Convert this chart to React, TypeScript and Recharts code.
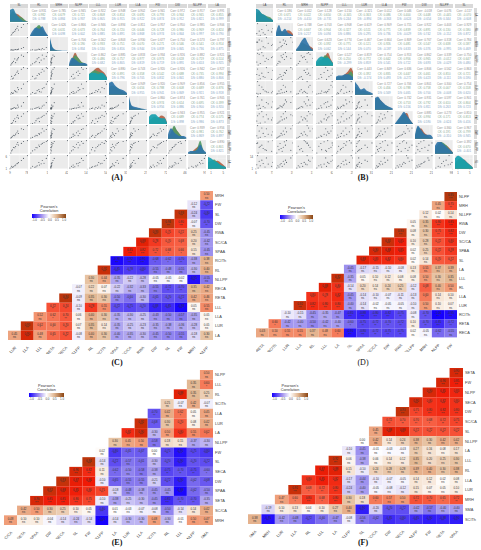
import React from 'react';
import { AreaChart, Area, CartesianGrid, Scatter, ScatterChart, XAxis, YAxis } from 'recharts';

const SANS = '"Liberation Sans", Arial, sans-serif';

// pair plot panels: strip names, one list of specimens per trait
const traitsA = ['SL', 'RL', 'MRH', 'NLPP', 'LLL', 'LUR', 'LLA', 'FW', 'DW', 'NLLPP', 'LA'];
const traitsB = ['LA', 'RL', 'MRH', 'NLPP', 'LLL', 'LUR', 'LLA', 'FW', 'DW', 'NLLPP', 'SL'];

const specimensA = [
  [12, 18, 15, 22, 30, 27, 35, 41, 38, 52, 60, 75],
  [2.1, 2.8, 2.4, 3.0, 3.6, 3.2, 3.9, 3.5, 4.4, 4.1, 4.8, 5.0],
  [1, 1, 2, 1, 3, 2, 2, 4, 3, 6, 9, 40],
  [3, 5, 4, 6, 5, 8, 7, 9, 8, 11, 10, 13],
  [22, 25, 31, 27, 36, 33, 41, 38, 44, 48, 52, 50],
  [5, 6, 8, 7, 10, 12, 9, 14, 18, 16, 25, 30],
  [1, 2, 1, 3, 2, 4, 3, 5, 9, 7, 14, 26],
  [30, 34, 32, 41, 38, 47, 52, 49, 58, 55, 63, 70],
  [9, 14, 11, 17, 20, 16, 24, 22, 29, 35, 33, 44],
  [50, 62, 58, 70, 74, 69, 82, 79, 88, 85, 92, 95],
  [1.2, 1.5, 1.9, 1.7, 2.4, 2.1, 2.9, 3.4, 3.1, 4.2, 5.0, 6.1],
];
const specimensB = [
  [14, 40, 22, 65, 9, 33, 52, 18, 70, 28, 45, 12],
  [3, 5, 4, 8, 6, 7, 10, 9, 12, 11, 16, 18],
  [5, 7, 6, 9, 12, 8, 11, 14, 10, 13, 16, 12],
  [20, 32, 25, 44, 30, 50, 38, 55, 47, 60, 42, 58],
  [6, 10, 8, 7, 14, 11, 17, 13, 20, 16, 24, 22],
  [2, 9, 3, 5, 4, 12, 6, 22, 8, 18, 7, 30],
  [1, 3, 2, 4, 6, 5, 9, 7, 12, 15, 11, 20],
  [8, 10, 9, 12, 11, 15, 13, 18, 14, 20, 17, 16],
  [4, 6, 5, 8, 7, 10, 9, 13, 12, 17, 16, 20],
  [40, 55, 70, 48, 82, 60, 90, 66, 95, 75, 52, 85],
  [2, 3, 4, 3.5, 5, 6, 5.5, 8, 7, 9, 11, 13],
];

// diagonal densities, each trait: [brown, green, front] heights
const densityA = [
  [[2, 5, 6, 5, 3, 1, 0], [5, 8, 5, 4, 3, 1, 0], [9, 10, 6, 3, 1, 0.5, 0]],
  [[0, 2, 5, 8, 6, 3, 0], [0, 3, 7, 9, 6, 2, 0], [1, 5, 7, 6, 8, 4, 0.5]],
  [[5, 1, 0.3, 0, 0, 0, 0], [8, 1.5, 0.4, 0.2, 0, 0, 0], [10, 2, 0.5, 0.3, 0.2, 0.1, 0]],
  [[0, 5, 10, 6, 3, 1, 0], [0, 4, 8, 6, 3, 2, 0], [1, 6, 5, 3, 2, 2, 1]],
  [[4, 6, 9, 10, 8, 6, 2], [5, 7, 8, 7, 6, 4, 1], [5, 6, 6, 5, 6, 5, 2]],
  [[3, 5, 5, 4, 3, 1, 0], [5, 7, 6, 5, 3, 2, 0], [9, 10, 7, 5, 4, 3, 1]],
  [[6, 2, 1, 0.5, 0.3, 0, 0], [7, 2, 1, 1, 0.5, 0.2, 0], [10, 3, 2, 1.5, 1, 0.5, 0.2]],
  [[1, 3, 4, 5, 7, 6, 1], [3, 5, 6, 5, 4, 2, 0], [6, 8, 8, 6, 5, 5, 1]],
  [[0, 4, 9, 6, 3, 1, 0], [1, 5, 10, 6, 3, 1, 0], [3, 8, 5, 3, 2, 2, 1]],
  [[0, 1, 3, 5, 6, 2, 0], [0, 1, 2, 4, 10, 3, 0], [1, 2, 2, 3, 7, 3, 1]],
  [[3, 4, 5, 6, 5, 3, 1], [5, 6, 7, 5, 3, 1, 0], [9, 8, 6, 5, 3, 2, 1]],
];
const densityB = [
  [[4, 6, 5, 4, 3, 2, 0], [6, 8, 6, 5, 4, 3, 0], [10, 9, 6, 5, 3, 2, 1]],
  [[0, 1, 3, 4, 5, 4, 1], [1, 5, 4, 3, 1, 0.5, 0], [3, 9, 4, 6, 3, 2, 0.5]],
  [[0, 2, 3, 5, 4, 3, 1], [0, 2, 6, 5, 3, 1, 0], [1, 4, 8, 10, 6, 2, 0.5]],
  [[0, 2, 4, 7, 10, 5, 1], [1, 4, 5, 8, 7, 3, 1], [3, 6, 7, 6, 6, 4, 1]],
  [[1, 2, 3, 5, 7, 10, 5], [2, 3, 3, 4, 5, 7, 3], [3, 4, 4, 5, 5, 4, 2]],
  [[5, 4, 3, 3, 2, 1, 0], [6, 5, 3, 3, 2, 1, 0], [10, 7, 4, 5, 3, 2, 1]],
  [[5, 8, 7, 4, 2, 1, 0], [7, 9, 6, 4, 3, 1, 0], [9, 10, 7, 5, 3, 2, 1]],
  [[0, 2, 5, 8, 9, 4, 1], [0, 3, 6, 8, 6, 3, 1], [1, 4, 7, 10, 7, 4, 1]],
  [[1, 6, 8, 5, 3, 1, 0], [1, 9, 6, 3, 2, 1, 0], [3, 10, 7, 4, 3, 3, 1]],
  [[1, 4, 6, 7, 6, 4, 1], [3, 7, 9, 8, 6, 3, 1], [6, 9, 9, 7, 5, 3, 1]],
  [[2, 5, 6, 7, 5, 3, 1], [4, 7, 8, 6, 4, 2, 0], [8, 10, 9, 7, 5, 3, 1]],
];
const frontColorA = ['#2c7fa8', '#2f74a8', '#2f74a8', '#2f74a8', '#17a0ae', '#2f74a8', '#2f74a8', '#17a0ae', '#2f74a8', '#2f74a8', '#17a0ae'];
const frontColorB = ['#1f8fa8', '#2f74a8', '#2f74a8', '#17a0ae', '#2f74a8', '#2f74a8', '#2f74a8', '#2f74a8', '#2f74a8', '#2f74a8', '#17a0ae'];

// correlation triangles, top row first, each row right aligned
const rowLabelsC = ['MRH', 'FW', 'SL', 'DW', 'RWA', 'SC/CA', 'SPAA', 'RCITh', 'RL', 'NLLPP', 'RECA', 'RETA', 'LLL', 'LLA', 'LUR', 'LA'];
const colLabelsC = ['LUR', 'LLA', 'LLL', 'RETA', 'RECA', 'NLLPP', 'RL', 'RCITh', 'SPAA', 'SC/CA', 'RWA', 'DW', 'SL', 'FW', 'MRH', 'NLPP'];
const valuesC = [
  [0.5],
  [-0.12, -0.72],
  [0.93, -0.24, -0.8],
  [0.94, 0.8, -0.07, -0.7],
  [0.93, 0.75, 0.72, 0.25, -0.45],
  [0.88, 0.78, 0.7, 0.68, 0.2, -0.42],
  [0.85, 0.82, 0.72, 0.68, 0.66, 0.15, -0.45],
  [-0.98, -0.92, -0.95, -0.68, -0.62, -0.7, -0.38, 0.38],
  [0.92, -0.85, -0.78, -0.8, -0.55, -0.48, -0.55, -0.3, 0.4],
  [0.3, 0.44, -0.35, -0.22, -0.28, -0.05, -0.05, -0.02, -0.95, -0.55],
  [-0.07, 0.22, 0.07, -0.22, -0.32, -0.33, -0.55, -0.72, -0.7, 0.35, 0.42],
  [0.94, -0.09, 0.35, 0.3, -0.5, -0.6, -0.3, -0.65, -0.7, -0.72, 0.42, 0.46],
  [0.72, 0.74, -0.1, 0.78, 0.55, -0.72, -0.75, -0.7, -0.88, -0.85, -0.98, 0.05, 0.55],
  [0.52, 0.62, 0.7, 0.06, 0.4, 0.3, -0.35, -0.3, -0.25, -0.43, -0.5, -0.57, -0.35, 0.05],
  [0.93, 0.62, 0.6, 0.7, 0.07, 0.35, 0.14, -0.35, -0.25, -0.23, -0.35, -0.38, -0.36, -0.28, 0.05],
  [0.45, 0.9, 0.48, 0.65, 0.72, -0.08, 0.4, 0.3, -0.4, -0.35, -0.3, -0.45, -0.5, -0.55, -0.18, 0.3],
];

const rowLabelsD = ['NLPP', 'MRH', 'NLLPP', 'RWA', 'DW', 'SC/CA', 'SPAA', 'SL', 'LA', 'LLL', 'RL', 'LLA', 'LUR', 'RCITh', 'RETA', 'RECA'];
const colLabelsD = ['RETA', 'RCITh', 'LUR', 'LLA', 'RL', 'LLL', 'LA', 'SL', 'SPAA', 'SC/CA', 'DW', 'RWA', 'NLLPP', 'MRH', 'NLPP', 'FW'];
const valuesD = [
  [0.95],
  [0.45, 0.75],
  [0.12, 0.02, 0.14],
  [0.05, 0.35, 0.8, 0.85],
  [0.93, 0.08, 0.3, 0.75, 0.82],
  [0.92, 0.85, 0.1, 0.28, 0.72, 0.8],
  [0.9, 0.88, 0.85, 0.02, 0.25, 0.72, 0.78],
  [0.88, 0.83, 0.82, 0.8, 0.02, 0.14, 0.7, 0.72],
  [-0.45, -0.17, -0.15, -0.1, -0.08, 0.13, 0.55, 0.37, 0.39],
  [0.92, -0.35, 0.05, 0.1, 0.12, 0.08, 0.08, 0.5, 0.3, 0.35],
  [0.88, 0.8, -0.14, 0.2, 0.14, 0.24, 0.25, -0.12, 0.68, 0.4, 0.5],
  [0.8, 0.78, 0.82, -0.45, -0.14, -0.1, -0.07, -0.11, -0.13, 0.6, 0.14, 0.1],
  [0.92, 0.82, 0.8, 0.8, -0.4, -0.14, -0.02, -0.05, -0.05, -0.1, 0.5, 0.1, 0.07],
  [-0.1, -0.15, -0.45, -0.35, -0.47, -0.85, -0.88, -0.8, -0.82, -0.75, -0.08, -0.7, -1, -0.95],
  [0.6, -0.42, -0.4, -0.5, -0.42, -0.4, -0.6, -0.75, -0.72, -0.7, -0.72, 0.1, -0.7, -0.85, -0.72],
  [0.43, 0.5, 0.55, 0.55, 0.37, 0.48, 0.6, -0.95, -0.8, -0.72, -0.75, -0.75, 0.02, -0.05, -0.62, -0.55],
];

const rowLabelsE = ['NLPP', 'LLL', 'RL', 'SCITh', 'LLA', 'LUR', 'LA', 'NLLPP', 'FW', 'SL', 'SECA', 'DW', 'SPAA', 'SETA', 'SC/CA', 'MRH'];
const colLabelsE = ['SC/CA', 'SETA', 'SPAA', 'DW', 'SECA', 'SL', 'FW', 'NLLPP', 'LA', 'LUR', 'LLA', 'SCITh', 'RL', 'LLL', 'NLPP', 'SMA'];
const valuesE = [
  [0.5],
  [0.35, 0.6],
  [0.88, 0.35, 0.25],
  [0.25, -0.07, 0.42, -0.07],
  [-0.7, 0.42, 0.62, 0.05, 0.45],
  [0.92, -0.68, 0.3, 0.7, 0.08, 0.42],
  [0.82, 0.9, -0.3, 0.5, 0.8, 0.55, 0.62],
  [0.3, 0.45, 0.5, -0.58, 0.18, 0.15, -0.37, -0.3],
  [0.02, -0.8, -0.65, -0.67, 0, -0.75, -0.95, -0.75, -0.8],
  [0.94, -0.14, -0.72, -0.57, -0.61, -0.3, -0.7, -0.9, -0.7, -0.72],
  [0.9, 0.82, 0.11, -0.62, -0.5, -0.58, -0.38, -0.75, -0.7, -0.75, -0.6],
  [0.93, 0.87, 0.86, -0.1, -0.65, -0.55, -0.55, -0.21, -0.72, -0.9, -0.62, -0.68],
  [0.92, 0.88, 0.85, 0.8, 0.75, -0.18, -0.48, -0.38, -0.45, -0.45, -0.98, -0.62, -0.5],
  [0.9, 0.85, 0.85, 0.8, 0.75, -0.1, -0.38, -0.25, -0.3, -0.45, -0.85, -0.7, -0.7, -0.35],
  [0.42, 0.5, 0.3, 0.25, 0.1, 0.05, -0.8, 0.01, -0.03, -0.07, -0.08, -0.5, -0.14, 0.14, 0.42],
  [0.48, 0.1, 0.1, -0.04, -0.14, -0.24, -0.14, -1, -0.14, -0.3, -0.3, 0.48, -0.3, -0.01, 0.5, 0.47],
];

const rowLabelsF = ['SETA', 'FW', 'NLPP', 'SECA', 'DW', 'SC/CA', 'SL', 'NLLPP', 'LA', 'LLL', 'RL', 'LLA', 'LUR', 'MRH', 'SMA', 'SCITh'];
const colLabelsF = ['SMA', 'MRH', 'LUR', 'LLA', 'RL', 'LLL', 'LA', 'NLLPP', 'SL', 'SC/CA', 'DW', 'SECA', 'NLPP', 'FW', 'SETA', 'SPAA'];
const valuesF = [
  [0.9],
  [0.9, 0.85],
  [0.9, 0.85, 0.83],
  [0.9, 0.8, 0.82, 0.8],
  [0.93, 0.75, 0.8, 0.82, 0.8],
  [0.72, 0.7, 0.7, 0.68, 0.72, 0.75],
  [0.45, 0.88, 0.88, 0.72, 0.72, 0.72, 0.72],
  [0, 0.42, 0.14, 0.24, 0.38, 0.3, 0.42, 0.42],
  [-0.1, -0.45, -0.01, -0.03, -0.03, 0.27, 0.16, 0.08, 0.17],
  [0.92, 0.06, -0.38, 0.06, 0.14, 0.12, 0.35, 0.2, 0.25, 0.3],
  [0.87, 0.88, 0.15, -0.1, 0.24, 0.28, 0.28, 0.39, 0.4, 0.3, 0.38],
  [0.8, 0.85, 0.82, -0.17, -0.44, -0.1, -0.07, -0.05, 0.14, 0.12, 0.02, 0.08],
  [0.92, 0.68, 0.72, 0.8, -0.24, -0.4, -0.05, -0.08, -0.12, 0.15, 0.07, 0.05, 0.1],
  [0.47, 0.6, 0.8, 0.68, 0.8, 0.3, 0.18, 0.6, 0.57, 0.5, 0.72, 0.7, 0.65, 0.72],
  [-0.19, 0.1, 0.13, 0.04, 0.1, 0.27, 0.4, -0.9, -0.2, -0.7, -0.72, -0.42, -0.57, -0.4, -0.4],
  [0.38, -0.95, -0.42, -0.48, -0.72, -0.6, -0.47, -0.08, -0.56, -0.62, -0.85, -0.8, -0.85, -0.9, -0.88, -0.9],
];

const legendTicks = ['-1.0', '-0.5', '0.0', '0.5', '1.0'];
const colorStops: [number, number[]][] = [
  [-1, [21, 0, 255]],
  [-0.85, [62, 42, 246]],
  [-0.6, [125, 110, 238]],
  [-0.35, [176, 166, 240]],
  [-0.15, [226, 221, 248]],
  [0, [255, 255, 255]],
  [0.15, [246, 228, 212]],
  [0.35, [226, 184, 147]],
  [0.5, [242, 154, 117]],
  [0.7, [247, 89, 61]],
  [0.86, [240, 26, 5]],
  [0.93, [196, 50, 10]],
  [1, [139, 69, 19]],
];

const cellColor = (v: number) => {
  for (let i = 1; i < colorStops.length; i++) {
    const [b, cb] = colorStops[i];
    if (v <= b) {
      const [a, ca] = colorStops[i - 1];
      const t = (v - a) / (b - a);
      return `rgb(${ca.map((c, k) => Math.round(c + (cb[k] - c) * t)).join(',')})`;
    }
  }
  return 'rgb(139,69,19)';
};

const stars = (v: number) => {
  const a = Math.abs(v);
  return a >= 0.8 ? '***' : a >= 0.7 ? '**' : a >= 0.6 ? '*' : 'ns';
};

const pearson = (a: number[], b: number[]) => {
  const ma = a.reduce((s, x) => s + x, 0) / a.length;
  const mb = b.reduce((s, x) => s + x, 0) / b.length;
  let ab = 0, aa = 0, bb = 0;
  a.forEach((x, i) => {
    ab += (x - ma) * (b[i] - mb);
    aa += (x - ma) ** 2;
    bb += (b[i] - mb) ** 2;
  });
  return (ab / Math.sqrt(aa * bb)).toFixed(3);
};

const rangeOf = (a: number[]): [number, number] => {
  const lo = Math.min(...a);
  const hi = Math.max(...a);
  const pad = (hi - lo) * 0.05;
  return [lo - pad, hi + pad];
};

const tinyTick = { fontSize: 2.8, fill: '#555', fontFamily: SANS };
const tinyLine = { stroke: '#777', strokeWidth: 0.3 };

const Dot = (props: any) => <circle cx={props.cx} cy={props.cy} r={0.55} fill="#3f4a55" fillOpacity={0.85} />;

interface PairProps {
  traits: string[];
  specimens: number[][];
  density: number[][][];
  frontColor: string[];
  left: number;
  cellW: number;
  pitchX: number;
}

const PairPanel: React.FC<PairProps> = ({ traits, specimens, density, frontColor, left, cellW, pitchX }) => {
  const top = 8;
  const cellH = 13.7;
  const pitchY = 14.65;
  const leftGut = 9;
  const bottomGut = 7;
  const n = traits.length;
  const cells: React.ReactNode[] = [];

  for (let row = 0; row < n; row++) {
    for (let col = 0; col < n; col++) {
      const x = left + col * pitchX;
      const y = top + row * pitchY;
      const w = cellW + (col === 0 ? leftGut : 0);
      const h = cellH + (row === n - 1 ? bottomGut : 0);
      const pos: React.CSSProperties = { position: 'absolute', left: col === 0 ? x - leftGut : x, top: y };
      if (row < col) {
        const a = specimens[col];
        const b = specimens[row];
        cells.push(
          <div key={`${row}-${col}`} style={{ ...pos, width: cellW, height: cellH, fontFamily: SANS, fontSize: 2.9, lineHeight: '4.35px', textAlign: 'center', paddingTop: 0.6, whiteSpace: 'nowrap' }}>
            <div style={{ color: '#8c8c8c' }}>Corr: {pearson(a, b)}</div>
            <div style={{ color: '#85a88f' }}>CK: {pearson(a.slice(0, 6), b.slice(0, 6))}</div>
            <div style={{ color: '#849fc0' }}>DS: {pearson(a.slice(6), b.slice(6))}</div>
          </div>
        );
      } else if (row === col) {
        const [brown, green, front] = density[row];
        const data = front.map((v, i) => ({ x: i, brown: brown[i], green: green[i], front: v }));
        cells.push(
          <div key={`${row}-${col}`} style={pos}>
            <AreaChart width={w} height={h} data={data} margin={{ top: 0, right: 0, bottom: 0, left: 0 }}>
              <CartesianGrid fill="#ebebeb" stroke="#fff" strokeWidth={0.3} />
              <XAxis type="number" dataKey="x" domain={[0, 6]} ticks={[1, 3, 5]} hide={row !== n - 1} height={bottomGut} tick={tinyTick} tickSize={1} tickLine={tinyLine} axisLine={false} />
              <YAxis domain={[0, 10.5]} ticks={[2, 5, 8]} hide={col !== 0} width={leftGut} tick={tinyTick} tickSize={1} tickLine={tinyLine} axisLine={false} />
              <Area dataKey="brown" type="monotone" stroke="none" fill="#b5654a" fillOpacity={0.95} isAnimationActive={false} dot={false} />
              <Area dataKey="green" type="monotone" stroke="none" fill="#4f9a63" fillOpacity={0.9} isAnimationActive={false} dot={false} />
              <Area dataKey="front" type="monotone" stroke="none" fill={frontColor[row]} fillOpacity={0.92} isAnimationActive={false} dot={false} />
            </AreaChart>
          </div>
        );
      } else {
        const data = specimens[col].map((v, i) => ({ x: v, y: specimens[row][i] }));
        cells.push(
          <div key={`${row}-${col}`} style={pos}>
            <ScatterChart width={w} height={h} margin={{ top: 0, right: 0, bottom: 0, left: 0 }}>
              <CartesianGrid fill="#ebebeb" stroke="#fff" strokeWidth={0.3} />
              <XAxis type="number" dataKey="x" domain={rangeOf(specimens[col])} tickCount={3} tickFormatter={(v: number) => String(Math.round(v))} hide={row !== n - 1} height={bottomGut} tick={tinyTick} tickSize={1} tickLine={tinyLine} axisLine={false} />
              <YAxis type="number" dataKey="y" domain={rangeOf(specimens[row])} tickCount={3} tickFormatter={(v: number) => String(Math.round(v))} hide={col !== 0} width={leftGut} tick={tinyTick} tickSize={1} tickLine={tinyLine} axisLine={false} />
              <Scatter data={data} shape={<Dot />} isAnimationActive={false} />
            </ScatterChart>
          </div>
        );
      }
    }
  }

  return (
    <>
      {traits.map((t, i) => (
        <React.Fragment key={t}>
          <div style={{ position: 'absolute', left: left + i * pitchX, top: 4, width: cellW, height: 3.6, background: '#d9d9d9', fontFamily: SANS, fontSize: 2.8, lineHeight: '3.6px', textAlign: 'center', color: '#444' }}>{t}</div>
          <div style={{ position: 'absolute', left: left + (n - 1) * pitchX + cellW + 0.5, top: top + i * pitchY, width: 3.6, height: cellH, background: '#d9d9d9', fontFamily: SANS, fontSize: 2.8, lineHeight: '3.6px', textAlign: 'center', color: '#444', writingMode: 'vertical-rl' }}>{t}</div>
        </React.Fragment>
      ))}
      {cells}
    </>
  );
};

interface HeatProps {
  rowLabels: string[];
  colLabels: string[];
  values: number[][];
  left: number;
  top: number;
  plotW: number;
  plotH: number;
}

const HeatPanel: React.FC<HeatProps> = ({ rowLabels, colLabels, values, left, top, plotW, plotH }) => {
  const n = rowLabels.length;
  const w = plotW / n;
  const h = plotH / n;
  const data = values.flatMap((r, i) =>
    r.map((v, k) => ({ x: n - r.length + k, y: n - 1 - i, v }))
  );
  const idx = rowLabels.map((_, i) => i);

  const Tile = (p: any) => (
    <g>
      <rect x={p.cx - w / 2} y={p.cy - h / 2} width={w} height={h} fill={cellColor(p.payload.v)} />
      <text x={p.cx} y={p.cy - 0.4} textAnchor="middle" fontSize={2.9} fontFamily={SANS} fill="#333">{p.payload.v.toFixed(2)}</text>
      <text x={p.cx} y={p.cy + 3} textAnchor="middle" fontSize={2.9} fontFamily={SANS} fill="#333">{stars(p.payload.v)}</text>
    </g>
  );

  const BottomTick = (p: any) => (
    <text x={p.x + 2} y={p.y} textAnchor="end" fontSize={3.9} fontFamily={SANS} fill="#444" transform={`rotate(-45 ${p.x + 2} ${p.y})`}>
      {colLabels[p.payload.value]}
    </text>
  );

  return (
    <div style={{ position: 'absolute', left, top }}>
      <ScatterChart width={plotW + 22} height={plotH + 14} margin={{ top: 0, right: 0, bottom: 0, left: 0 }}>
        <XAxis type="number" dataKey="x" domain={[-0.5, n - 0.5]} ticks={idx} interval={0} height={14} tick={<BottomTick />} tickLine={false} axisLine={false} />
        <YAxis type="number" dataKey="y" domain={[-0.5, n - 0.5]} ticks={idx} interval={0} orientation="right" width={22} tickFormatter={(v: number) => rowLabels[n - 1 - v]} tick={{ fontSize: 3.9, fill: '#444', fontFamily: SANS, textAnchor: 'start' }} tickSize={1} tickMargin={1} tickLine={false} axisLine={false} />
        <Scatter data={data} shape={<Tile />} isAnimationActive={false} />
      </ScatterChart>
    </div>
  );
};

const CorrLegend: React.FC<{ left: number; width: number; top: number }> = ({ left, width, top }) => (
  <div style={{ position: 'absolute', left, top, width, fontFamily: SANS, textAlign: 'center', color: '#333' }}>
    <div style={{ fontSize: 3.8, lineHeight: '4px' }}>Pearson's</div>
    <div style={{ fontSize: 3.8, lineHeight: '4px' }}>Correlation</div>
    <div style={{ height: 4, marginTop: 0.8, background: 'linear-gradient(90deg,#1500ff 0%,#a090ee 28%,#ffffff 50%,#e2b893 72%,#8b4513 100%)' }} />
    <div style={{ display: 'flex', justifyContent: 'space-between', fontSize: 2.9, lineHeight: '4px', color: '#444' }}>
      {legendTicks.map((t) => <span key={t}>{t}</span>)}
    </div>
  </div>
);

const PanelTitle: React.FC<{ text: string; x: number; y: number; bold?: boolean }> = ({ text, x, y, bold = true }) => (
  <div style={{ position: 'absolute', left: x - 20, top: y - 6, width: 40, textAlign: 'center', fontFamily: '"Liberation Serif", serif', fontSize: 8, lineHeight: '12px', fontWeight: bold ? 700 : 400, color: '#111' }}>{text}</div>
);

const App: React.FC = () => (
  <div style={{ position: 'absolute', left: 0, top: 0, width: 481, height: 550, background: '#fff', overflow: 'hidden' }}>
    <PairPanel traits={traitsA} specimens={specimensA} density={densityA} frontColor={frontColorA} left={10} cellW={18.3} pitchX={19.8} />
    <PairPanel traits={traitsB} specimens={specimensB} density={densityB} frontColor={frontColorB} left={255.7} cellW={17.8} pitchX={19.95} />
    <PanelTitle text="(A)" x={117} y={178} />
    <PanelTitle text="(B)" x={363} y={178} />

    <HeatPanel rowLabels={rowLabelsC} colLabels={colLabelsC} values={valuesC} left={8.3} top={191} plotW={205} plotH={149} />
    <CorrLegend left={32} width={34} top={205} />
    <PanelTitle text="(C)" x={117} y={363} />

    <HeatPanel rowLabels={rowLabelsD} colLabels={colLabelsD} values={valuesD} left={255.7} top={192.3} plotW={201} plotH={145.4} />
    <CorrLegend left={280} width={33} top={206} />
    <PanelTitle text="(D)" x={363} y={363} bold={false} />

    <HeatPanel rowLabels={rowLabelsE} colLabels={colLabelsE} values={valuesE} left={4.3} top={370} plotW={209} plotH={155} />
    <CorrLegend left={29} width={35} top={384} />
    <PanelTitle text="(E)" x={117} y={543} />

    <HeatPanel rowLabels={rowLabelsF} colLabels={colLabelsF} values={valuesF} left={248.3} top={368.3} plotW={215} plotH={156} />
    <CorrLegend left={272} width={36} top={384} />
    <PanelTitle text="(F)" x={363} y={543} />
  </div>
);

export default App;
